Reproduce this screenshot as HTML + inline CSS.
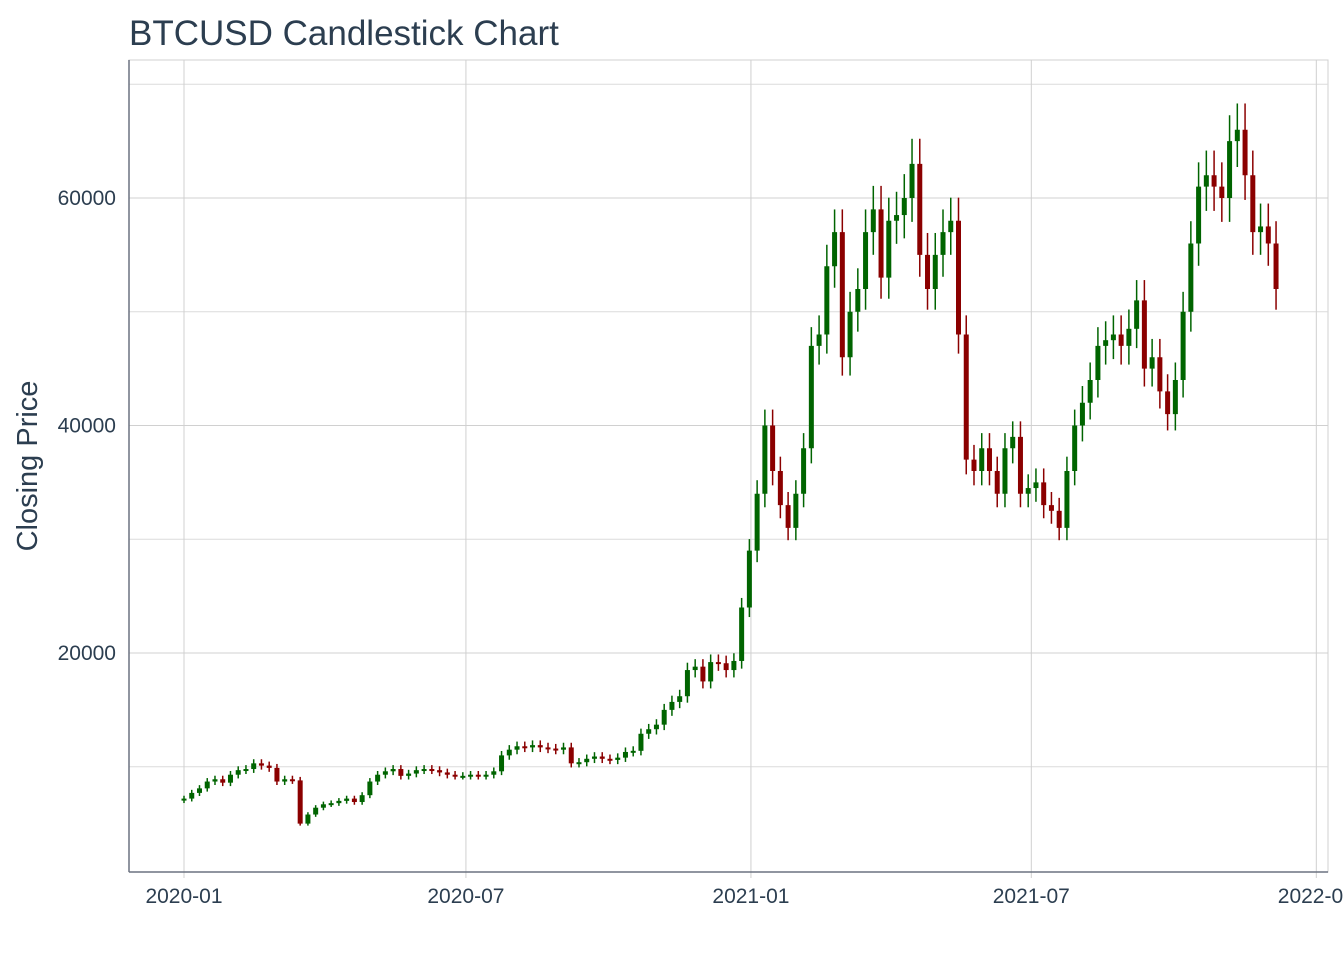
<!DOCTYPE html>
<html><head><meta charset="utf-8"><style>
body{margin:0;background:#fff;}
svg text{font-family:"Liberation Sans",sans-serif;fill:#2c3e50;}
</style></head><body>
<svg width="1344" height="960" xmlns="http://www.w3.org/2000/svg">
<text x="129" y="45" font-size="35">BTCUSD Candlestick Chart</text>
<text transform="translate(37,466) rotate(-90)" text-anchor="middle" font-size="29">Closing Price</text>
<g id="grid"></g>
<g id="candles"></g>
<g id="axes"></g>
</svg>
<script>
const startDay = 0;
const stepDays = 5;
const closes = [7200,7700,8100,8700,8900,8600,9300,9700,9800,10300,10100,9900,8700,8900,8800,5000,5800,6400,6700,6800,7000,7200,6900,7500,8700,9300,9600,9800,9200,9400,9700,9800,9700,9500,9300,9200,9200,9300,9200,9300,9600,11000,11500,11800,11700,11900,11700,11600,11500,11700,10300,10400,10700,10900,10700,10600,10800,11300,11400,12900,13300,13700,15000,15700,16200,18500,18800,17500,19200,19100,18500,19300,
24000,29000,34000,40000,36000,33000,31000,34000,38000,47000,48000,54000,57000,46000,50000,52000,57000,59000,53000,58000,58500,60000,63000,55000,52000,55000,57000,58000,48000,37000,36000,38000,36000,34000,38000,39000,34000,34500,35000,33000,32500,31000,36000,40000,42000,44000,47000,47500,48000,47000,48500,51000,45000,46000,43000,41000,44000,50000,56000,61000,62000,61000,60000,65000,66000,62000,57000,57500,56000,52000];
const yTicks = [20000,40000,60000];
const yMinor = [10000,30000,50000,70000];
const xTicks = [["2020-01",0],["2020-07",182],["2021-01",366],["2021-07",547],["2022-01",731]];
const L=129,R=1328,T=60,B=872;
const x = d => 184 + d*1.549;
const y = v => 880.5 - v*0.011375;
const NS="http://www.w3.org/2000/svg";
function mk(tag,attrs,parent,txt){const e=document.createElementNS(NS,tag);for(const k in attrs)e.setAttribute(k,attrs[k]);if(txt!==undefined)e.textContent=txt;parent.appendChild(e);return e;}
const grid=document.getElementById('grid'),cg=document.getElementById('candles'),ax=document.getElementById('axes');
const bg=mk('rect',{x:L,y:T,width:R-L,height:B-T,fill:'none',stroke:'#d0d0d0'},grid);


yMinor.forEach(v=>{const l=mk('line',{x1:L,x2:R,y1:y(v),y2:y(v),stroke:'#dcdcdc'},grid);

});
yTicks.forEach(v=>{const l=mk('line',{x1:L,x2:R,y1:y(v),y2:y(v),stroke:'#d0d0d0'},grid);


const t=mk('text',{x:116,y:y(v)+7,'text-anchor':'end','font-size':21},ax,String(v));

});
xTicks.forEach(([lab,d])=>{const l=mk('line',{x1:x(d),x2:x(d),y1:T,y2:B,stroke:'#d0d0d0'},grid);


const tk=mk('line',{x1:x(d),x2:x(d),y1:B,y2:B+6,stroke:'#d0d0d0'},ax);


const t=mk('text',{x:x(d),y:903,'text-anchor':'middle','font-size':21},ax,lab);

});
const al=mk('line',{x1:L,x2:L,y1:T,y2:B,stroke:'#6b7280','stroke-width':1.5},ax);


const bl=mk('line',{x1:L,x2:R,y1:B,y2:B,stroke:'#6b7280','stroke-width':1.5},ax);


closes.forEach((c,i)=>{
  const o = i===0 ? c*0.98 : closes[i-1];
  const up = c>=o;
  const hi = Math.max(o,c)*1.035, lo = Math.min(o,c)*0.965;
  const d = startDay + i*stepDays;
  const col = up ? '#006400' : '#8b0000';
  const g=mk('g',{},cg);
  
  
  mk('line',{x1:x(d),x2:x(d),y1:y(hi),y2:y(lo),stroke:col,'stroke-width':1.5},g);
  const top=y(Math.max(o,c)), h=Math.max(2,y(Math.min(o,c))-top);
  mk('rect',{x:x(d)-2.5,y:top,width:5,height:h,fill:col},g);
});
</script>
</body></html>
